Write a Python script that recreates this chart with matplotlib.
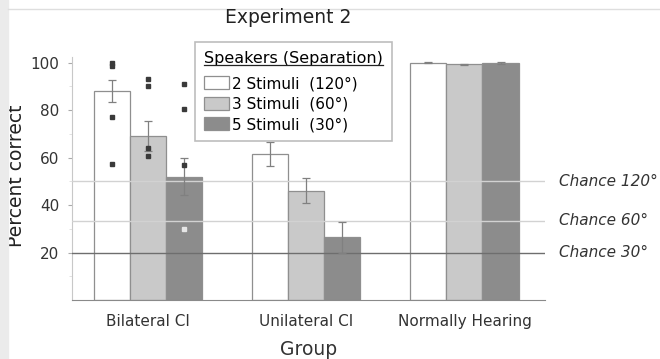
import numpy as np
import matplotlib
matplotlib.use("Agg")
import matplotlib.pyplot as plt
from matplotlib.patches import Rectangle, Patch
from matplotlib.lines import Line2D

plt.rcParams['font.family'] = ['DejaVu Sans']

groups = ['Bilateral CI', 'Unilateral CI', 'Normally Hearing']
stim_labels = ['2 Stimuli  (120°)', '3 Stimuli  (60°)', '5 Stimuli  (30°)']

# group means (percent correct)
mean_2 = [88, 61.5, 100]
mean_3 = [69, 46, 99.3]
mean_5 = [52, 26.5, 99.8]
# standard errors
sem_2 = [4.6, 5.2, 0.3]
sem_3 = [6.4, 5.3, 0.3]
sem_5 = [7.8, 6.6, 0.3]

# individual bilateral CI listeners
pts_2 = [100, 98.5, 77, 57.5]
pts_3 = [93, 90, 64, 60.5]
pts_5 = [91, 80.5, 57, 30]

chance_vals = [50, 100 / 3, 20]
chance_labels = ['Chance 120°', 'Chance 60°', 'Chance 30°']

fills = ['white', '#c9c9c9', '#8c8c8c']
means = [mean_2, mean_3, mean_5]
sems = [sem_2, sem_3, sem_5]
points = [pts_2, pts_3, pts_5]

fig = plt.figure(figsize=(6.6, 3.59), dpi=100)
ax = fig.add_axes([0.109, 0.164, 0.717, 0.678])

x = np.arange(len(groups))
w = 0.228
for k in range(3):
    xk = x + (k - 1) * w
    ax.bar(xk, means[k], width=w, color=fills[k], edgecolor='#8f8f8f',
           linewidth=0.9, zorder=2)
    ax.errorbar(xk, means[k], yerr=sems[k], fmt='none', ecolor='#808080',
                elinewidth=0.9, capsize=3, capthick=0.9, zorder=4)
    # bilateral individual scores
    for v in points[k]:
        c = '#e6e6e6' if (k == 2 and v < means[k][0] - sems[k][0]) else '#3a3a3a'
        ax.plot(xk[0], v, marker='s', ms=3.5, color=c, mec=c, zorder=5)

# chance levels
for v, lab in zip(chance_vals, chance_labels):
    col = '#6e6e6e' if v == 20 else '#d2d2d2'
    ax.axhline(v, color=col, lw=1.0, zorder=3)
    ax.text(1.03, v, lab, transform=ax.get_yaxis_transform(), ha='left',
            va='center', fontsize=11, style='italic', color='#333333')

ax.set_xlim(-0.48, 2.51)
ax.set_ylim(0, 102.5)
ax.set_yticks([20, 40, 60, 80, 100])
ax.set_yticks([10, 30, 50, 70, 90], minor=True)
ax.set_xticks(x)
ax.set_xticklabels(groups, fontsize=11)
ax.tick_params(axis='x', length=0, pad=10, colors='#333333')
ax.tick_params(axis='y', which='major', length=3, color='#aaaaaa',
               labelsize=11, labelcolor='#333333', pad=6)
ax.tick_params(axis='y', which='minor', length=2, color='#dddddd')
for s in ['top', 'right']:
    ax.spines[s].set_visible(False)
ax.spines['left'].set_color('#c8c8c8')
ax.spines['bottom'].set_color('#8a8a8a')

ax.set_ylabel('Percent correct', fontsize=13.5, color='#222222')
ax.yaxis.set_label_coords(-0.097, 0.51)
ax.set_xlabel('Group', fontsize=13.5, labelpad=8, color='#333333')
fig.text(0.436, 0.95, 'Experiment 2', fontsize=13.5, ha='center',
         va='center', color='#222222')

handles = [Patch(facecolor=f, edgecolor='#8f8f8f', linewidth=0.9) for f in fills]
leg = ax.legend(handles, stim_labels, title='Speakers (Separation)',
                loc='upper left', bbox_to_anchor=(0.26, 1.06), fontsize=11,
                title_fontsize=11.5, frameon=True, fancybox=False,
                edgecolor='#bdbdbd', framealpha=1, handlelength=1.6,
                handleheight=0.9, handletextpad=0.2, labelspacing=0.36,
                borderpad=0.6, borderaxespad=0, alignment='left')
leg.get_frame().set_linewidth(1.2)
leg.set_zorder(6)
# more room between the title and the entries
leg._legend_box.sep = 7

# underline the legend title
fig.canvas.draw()
tb = leg.get_title().get_window_extent().transformed(fig.transFigure.inverted())
fig.lines.append(Line2D([tb.x0, tb.x1], [tb.y0 + 0.004, tb.y0 + 0.004],
                        transform=fig.transFigure, color='#222222', lw=0.9))

# page edge
fig.patches.append(Rectangle((0, 0), 8 / 660, 1, transform=fig.transFigure,
                             color='#ebebeb', zorder=0))
fig.lines.append(Line2D([8 / 660, 1], [1 - 9 / 359, 1 - 9 / 359],
                        transform=fig.transFigure, color='#dedede', lw=1))

fig.savefig('out.png', dpi=100)
